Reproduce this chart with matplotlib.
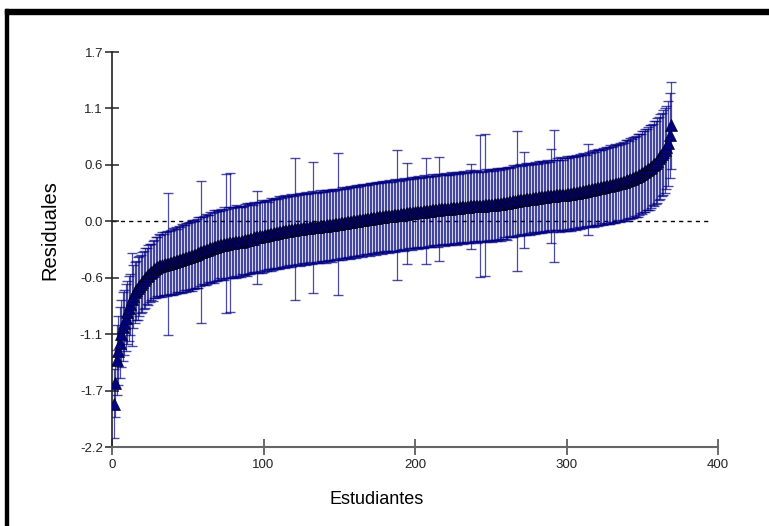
import numpy as np
import matplotlib.pyplot as plt
from matplotlib.patches import Rectangle

# sorted residuals per student, x = 1..369
residuals = [
    -1.80, -1.60, -1.37, -1.28, -1.20, -1.11, -1.04, -1.00, -0.95, -0.90,
    -0.86, -0.82, -0.77, -0.74, -0.70, -0.68, -0.66, -0.64, -0.62, -0.60,
    -0.58, -0.56, -0.54, -0.53, -0.51, -0.50, -0.49, -0.47, -0.46, -0.45,
    -0.44, -0.44, -0.43, -0.43, -0.42, -0.42, -0.42, -0.41, -0.41, -0.40,
    -0.40, -0.39, -0.39, -0.38, -0.38, -0.37, -0.37, -0.36, -0.36, -0.35,
    -0.35, -0.34, -0.34, -0.33, -0.33, -0.32, -0.31, -0.30, -0.30, -0.29,
    -0.29, -0.28, -0.28, -0.27, -0.26, -0.26, -0.25, -0.25, -0.24, -0.24,
    -0.23, -0.23, -0.23, -0.22, -0.22, -0.22, -0.21, -0.21, -0.21, -0.21,
    -0.20, -0.20, -0.20, -0.20, -0.20, -0.19, -0.19, -0.18, -0.18, -0.18,
    -0.17, -0.17, -0.17, -0.16, -0.16, -0.16, -0.16, -0.15, -0.15, -0.15,
    -0.14, -0.14, -0.14, -0.13, -0.13, -0.13, -0.12, -0.12, -0.12, -0.11,
    -0.11, -0.11, -0.10, -0.10, -0.10, -0.10, -0.09, -0.09, -0.09, -0.09,
    -0.08, -0.08, -0.08, -0.08, -0.08, -0.07, -0.07, -0.07, -0.07, -0.07,
    -0.06, -0.06, -0.06, -0.06, -0.06, -0.06, -0.05, -0.05, -0.05, -0.05,
    -0.05, -0.04, -0.04, -0.04, -0.04, -0.04, -0.03, -0.03, -0.03, -0.03,
    -0.02, -0.02, -0.02, -0.02, -0.01, -0.01, -0.01, -0.01, 0.00, 0.00,
    0.00, 0.00, 0.01, 0.01, 0.01, 0.01, 0.02, 0.02, 0.02, 0.02,
    0.03, 0.03, 0.03, 0.03, 0.04, 0.04, 0.04, 0.04, 0.04, 0.05,
    0.05, 0.05, 0.05, 0.05, 0.05, 0.06, 0.06, 0.06, 0.06, 0.06,
    0.07, 0.07, 0.07, 0.07, 0.08, 0.08, 0.08, 0.08, 0.08, 0.09,
    0.09, 0.09, 0.09, 0.09, 0.09, 0.10, 0.10, 0.10, 0.10, 0.10,
    0.11, 0.11, 0.11, 0.11, 0.11, 0.12, 0.12, 0.12, 0.12, 0.12,
    0.12, 0.12, 0.12, 0.13, 0.13, 0.13, 0.13, 0.13, 0.13, 0.14,
    0.14, 0.14, 0.14, 0.14, 0.14, 0.15, 0.15, 0.15, 0.15, 0.15,
    0.15, 0.15, 0.15, 0.15, 0.15, 0.16, 0.16, 0.16, 0.16, 0.16,
    0.16, 0.16, 0.17, 0.17, 0.17, 0.17, 0.17, 0.18, 0.18, 0.18,
    0.18, 0.19, 0.19, 0.19, 0.20, 0.20, 0.20, 0.21, 0.21, 0.21,
    0.21, 0.21, 0.22, 0.22, 0.22, 0.22, 0.22, 0.23, 0.23, 0.23,
    0.23, 0.24, 0.24, 0.24, 0.24, 0.24, 0.25, 0.25, 0.25, 0.25,
    0.25, 0.25, 0.26, 0.26, 0.26, 0.26, 0.26, 0.26, 0.26, 0.27,
    0.27, 0.27, 0.27, 0.28, 0.28, 0.28, 0.28, 0.29, 0.29, 0.29,
    0.30, 0.30, 0.30, 0.31, 0.31, 0.31, 0.32, 0.32, 0.32, 0.33,
    0.33, 0.33, 0.34, 0.34, 0.34, 0.35, 0.35, 0.35, 0.36, 0.36,
    0.36, 0.37, 0.37, 0.38, 0.38, 0.38, 0.39, 0.39, 0.40, 0.41,
    0.41, 0.42, 0.42, 0.43, 0.44, 0.44, 0.45, 0.46, 0.47, 0.48,
    0.49, 0.50, 0.51, 0.52, 0.53, 0.54, 0.56, 0.57, 0.58, 0.60,
    0.62, 0.64, 0.66, 0.68, 0.70, 0.73, 0.77, 0.85, 0.95,
]

# half width of each interval
errors = [
    0.34, 0.33, 0.35, 0.34, 0.35, 0.33, 0.34, 0.32, 0.33, 0.31,
    0.32, 0.30, 0.46, 0.31, 0.30, 0.29, 0.31, 0.30, 0.29, 0.30,
    0.29, 0.30, 0.28, 0.30, 0.29, 0.28, 0.30, 0.29, 0.30, 0.29,
    0.31, 0.30, 0.32, 0.30, 0.31, 0.32, 0.70, 0.31, 0.32, 0.33,
    0.32, 0.33, 0.31, 0.33, 0.32, 0.34, 0.33, 0.32, 0.34, 0.33,
    0.34, 0.33, 0.35, 0.34, 0.33, 0.34, 0.35, 0.34, 0.70, 0.33,
    0.34, 0.35, 0.34, 0.33, 0.35, 0.34, 0.36, 0.34, 0.35, 0.34,
    0.33, 0.35, 0.34, 0.36, 0.69, 0.34, 0.35, 0.69, 0.34, 0.35,
    0.34, 0.36, 0.35, 0.34, 0.35, 0.33, 0.34, 0.35, 0.36, 0.34,
    0.35, 0.34, 0.33, 0.35, 0.34, 0.46, 0.35, 0.34, 0.36, 0.35,
    0.34, 0.35, 0.33, 0.34, 0.36, 0.35, 0.34, 0.35, 0.34, 0.36,
    0.35, 0.34, 0.35, 0.36, 0.34, 0.35, 0.34, 0.36, 0.35, 0.34,
    0.70, 0.35, 0.34, 0.36, 0.35, 0.34, 0.35, 0.36, 0.34, 0.35,
    0.34, 0.36, 0.65, 0.35, 0.34, 0.35, 0.36, 0.34, 0.35, 0.34,
    0.36, 0.35, 0.34, 0.35, 0.36, 0.34, 0.35, 0.34, 0.70, 0.35,
    0.34, 0.36, 0.35, 0.34, 0.35, 0.34, 0.36, 0.35, 0.34, 0.35,
    0.36, 0.34, 0.35, 0.34, 0.36, 0.35, 0.34, 0.35, 0.34, 0.36,
    0.35, 0.34, 0.35, 0.36, 0.34, 0.35, 0.34, 0.36, 0.35, 0.34,
    0.35, 0.34, 0.36, 0.35, 0.34, 0.35, 0.36, 0.64, 0.35, 0.34,
    0.35, 0.34, 0.36, 0.35, 0.50, 0.34, 0.35, 0.36, 0.34, 0.35,
    0.34, 0.36, 0.35, 0.34, 0.35, 0.36, 0.52, 0.35, 0.34, 0.35,
    0.36, 0.34, 0.35, 0.34, 0.36, 0.51, 0.35, 0.34, 0.35, 0.36,
    0.34, 0.35, 0.34, 0.36, 0.35, 0.34, 0.35, 0.36, 0.34, 0.35,
    0.34, 0.36, 0.35, 0.34, 0.35, 0.36, 0.42, 0.35, 0.34, 0.35,
    0.36, 0.34, 0.70, 0.35, 0.34, 0.70, 0.36, 0.35, 0.34, 0.35,
    0.36, 0.34, 0.35, 0.36, 0.35, 0.34, 0.36, 0.35, 0.34, 0.35,
    0.36, 0.35, 0.34, 0.35, 0.36, 0.35, 0.69, 0.35, 0.36, 0.34,
    0.35, 0.47, 0.36, 0.35, 0.34, 0.36, 0.35, 0.34, 0.36, 0.35,
    0.34, 0.36, 0.35, 0.36, 0.34, 0.35, 0.36, 0.35, 0.34, 0.46,
    0.36, 0.65, 0.35, 0.36, 0.35, 0.37, 0.36, 0.35, 0.36, 0.37,
    0.35, 0.36, 0.37, 0.36, 0.35, 0.37, 0.36, 0.35, 0.37, 0.36,
    0.37, 0.36, 0.35, 0.45, 0.37, 0.36, 0.37, 0.38, 0.36, 0.37,
    0.38, 0.37, 0.36, 0.38, 0.37, 0.38, 0.37, 0.38, 0.39, 0.37,
    0.38, 0.39, 0.38, 0.37, 0.39, 0.38, 0.39, 0.38, 0.40, 0.39,
    0.38, 0.40, 0.39, 0.40, 0.39, 0.40, 0.41, 0.40, 0.39, 0.41,
    0.40, 0.41, 0.40, 0.41, 0.42, 0.41, 0.40, 0.42, 0.41, 0.42,
    0.41, 0.42, 0.41, 0.42, 0.42, 0.41, 0.42, 0.42, 0.43,
]

x_ticks = [0, 100, 200, 300, 400]
y_tick_labels = ['-2.2', '-1.7', '-1.1', '-0.6', '0.0', '0.6', '1.1', '1.7']
y_step = 3.9 / 7

students = np.arange(1, len(residuals) + 1)

fig = plt.figure(figsize=(7.69, 5.26), dpi=100)
ax = fig.add_axes([112 / 769, 1 - 447 / 526, 606 / 769, 395 / 526])

navy = '#000080'
ax.errorbar(students, residuals, yerr=errors, fmt='none', ecolor=navy,
            elinewidth=0.9, capsize=3.8, capthick=1.0, alpha=0.7, zorder=2)
ax.plot(students, residuals, '^', ms=9, mfc=navy, mec='#050520', mew=0.5, zorder=3)
ax.axhline(0, xmax=396 / 400, color='black', lw=1, dashes=(3, 3), zorder=1)

ax.set_xlim(0, 400)
ax.set_ylim(-4 * y_step, 3 * y_step)
ax.set_xticks(x_ticks)
ax.set_yticks(y_step * np.arange(-4, 4))
ax.set_yticklabels(y_tick_labels)

for s in ['top', 'right']:
    ax.spines[s].set_visible(False)
ax.spines['left'].set_color('#222222')
ax.spines['left'].set_linewidth(1.2)
ax.spines['bottom'].set_color('#666666')
ax.spines['bottom'].set_linewidth(1.5)

tick_font = ['Liberation Sans Narrow', 'Liberation Sans']
ax.tick_params(axis='y', direction='inout', length=10, width=1.1, color='#222222',
               pad=1.5, labelsize=9.5, labelcolor='#222222')
ax.tick_params(axis='x', direction='inout', length=12, width=1.1, color='#444444',
               pad=3, labelsize=9.5, labelcolor='#222222')
for lab in ax.get_xticklabels() + ax.get_yticklabels():
    lab.set_family(tick_font)

fig.text(377 / 769, 1 - 500 / 526, 'Estudiantes', ha='center', va='center',
         fontsize=13, family='Liberation Sans')
fig.text(50 / 769, 1 - 230 / 526, 'Residuales', ha='center', va='center',
         rotation=90, fontsize=14.5, family='Liberation Sans')

# frame of the original window
fig.add_artist(Rectangle((5 / 769, 1 - 14 / 526), 1, 5 / 526,
                         transform=fig.transFigure, color='black'))
fig.add_artist(Rectangle((5 / 769, 0), 3 / 769, 1 - 9 / 526,
                         transform=fig.transFigure, color='black'))

fig.savefig('out.png', dpi=100)
